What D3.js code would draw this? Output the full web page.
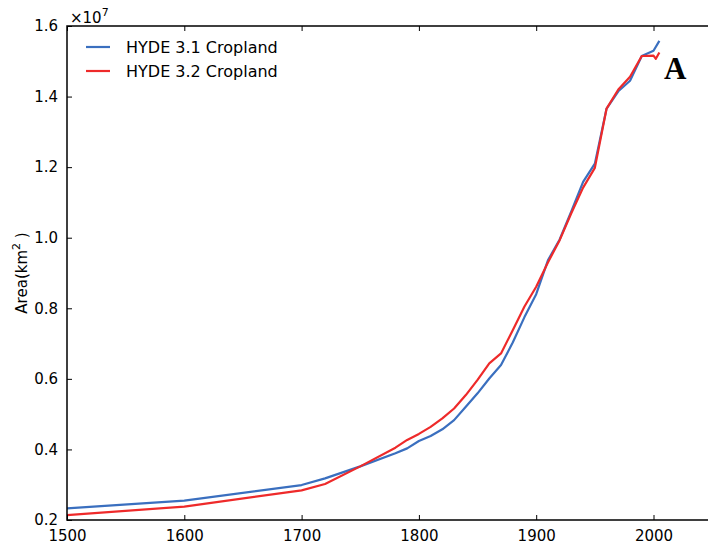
<!DOCTYPE html>
<html><head><meta charset="utf-8">
<script src="https://cdn.jsdelivr.net/npm/d3@7"></script>
<style>body{margin:0;background:#fff;} svg{display:block;}</style>
</head><body>
<svg id="chart" width="708" height="545"></svg>
<script>
const hyde31Years = [1500,1600,1700,1720,1750,1780,1790,1800,1810,1820,1830,1840,1850,1860,1870,1880,1890,1900,1910,1920,1930,1940,1950,1960,1970,1980,1990,2000,2005];
const hyde31Values = [0.233,0.255,0.299,0.318,0.352,0.389,0.403,0.424,0.438,0.457,0.483,0.521,0.559,0.601,0.639,0.703,0.775,0.840,0.936,0.995,1.075,1.158,1.21,1.366,1.415,1.445,1.515,1.530,1.558];
const hyde32Years = [1500,1600,1700,1720,1750,1780,1790,1800,1810,1820,1830,1840,1850,1860,1870,1880,1890,1900,1910,1920,1930,1940,1950,1960,1970,1980,1990,2000,2002,2005];
const hyde32Values = [0.214,0.238,0.284,0.302,0.352,0.405,0.427,0.444,0.464,0.488,0.516,0.554,0.597,0.644,0.672,0.738,0.805,0.861,0.930,0.993,1.070,1.142,1.198,1.366,1.420,1.456,1.515,1.516,1.507,1.525];
const seriesNames = ["HYDE 3.1 Cropland","HYDE 3.2 Cropland"];
const seriesColors = ["#3a6fbf","#ee2a2a"];
const xTicks = [1500,1600,1700,1800,1900,2000];
const yTicks = [0.2,0.4,0.6,0.8,1.0,1.2,1.4,1.6];

(function(){
const svg = d3.select("#chart");
const mLeft = 67, mTop = 26, mBottom = 520;
const x = d3.scaleLinear().domain([1500,2050]).range([mLeft, mLeft + 550*1.173]);
const y = d3.scaleLinear().domain([0.2,1.6]).range([mBottom, mTop]);
const font = "'DejaVu Sans', sans-serif";

const series = [
  {name: seriesNames[0], color: seriesColors[0], data: hyde31Years.map((yr,i)=>[yr, hyde31Values[i]])},
  {name: seriesNames[1], color: seriesColors[1], data: hyde32Years.map((yr,i)=>[yr, hyde32Values[i]])}
];
const line = d3.line().x(d=>x(d[0])).y(d=>y(d[1]));
series.forEach(s=>{
  svg.append("path").attr("d", line(s.data)).attr("fill","none")
    .attr("stroke", s.color).attr("stroke-width", 2.2).attr("stroke-linejoin","round");
});

const xr = x.range()[1];
svg.append("path").attr("d", `M${xr},${mTop}H${mLeft}V${mBottom}H${xr}`)
  .attr("fill","none").attr("stroke","#000").attr("stroke-width",1.5);

const xa = svg.append("g").attr("transform",`translate(0,${mBottom})`)
  .call(d3.axisBottom(x).tickValues(xTicks).tickFormat(d3.format("d")).tickSizeInner(-5).tickSizeOuter(0).tickPadding(10));
xa.select(".domain").remove();
xa.selectAll("text").attr("font-family",font).attr("font-size",15).attr("fill","#000");
xa.selectAll("line").attr("stroke","#000");
const ya = svg.append("g").attr("transform",`translate(${mLeft},0)`)
  .call(d3.axisLeft(y).tickValues(yTicks).tickFormat(d3.format(".1f")).tickSizeInner(-5).tickSizeOuter(0).tickPadding(9));
ya.select(".domain").remove();
ya.selectAll("text").attr("font-family",font).attr("font-size",15).attr("fill","#000");
ya.selectAll("line").attr("stroke","#000");
svg.append("g").attr("transform",`translate(0,${mTop})`)
  .call(d3.axisTop(x).tickValues(xTicks).tickFormat("").tickSizeInner(-5).tickSizeOuter(0))
  .call(g=>g.select(".domain").remove()).selectAll("line").attr("stroke","#000");

const mult = svg.append("text").attr("x", 70).attr("y", 23).attr("font-family",font).attr("font-size",15);
mult.append("tspan").text("×10");
mult.append("tspan").attr("font-size",11).attr("dy",-7).text("7");

const yl = svg.append("text").attr("transform","translate(27,273) rotate(-90)")
  .attr("text-anchor","middle").attr("font-family",font).attr("font-size",15);
yl.append("tspan").text("Area(km");
yl.append("tspan").attr("font-size",11).attr("dy",-7).text("2");
yl.append("tspan").attr("dy",7).text(" )");

series.forEach((s,i)=>{
  const ly = 47 + i*24;
  svg.append("line").attr("x1",86).attr("x2",110).attr("y1",ly).attr("y2",ly)
    .attr("stroke",s.color).attr("stroke-width",2.2);
  svg.append("text").attr("x",126).attr("y",ly+5.5).attr("font-family",font).attr("font-size",16).text(s.name);
});

svg.append("text").attr("x",664).attr("y",79).attr("font-family","'Liberation Serif', 'Times New Roman', serif")
  .attr("font-weight","bold").attr("font-size",31).text("A");
})();
</script>
</body></html>
